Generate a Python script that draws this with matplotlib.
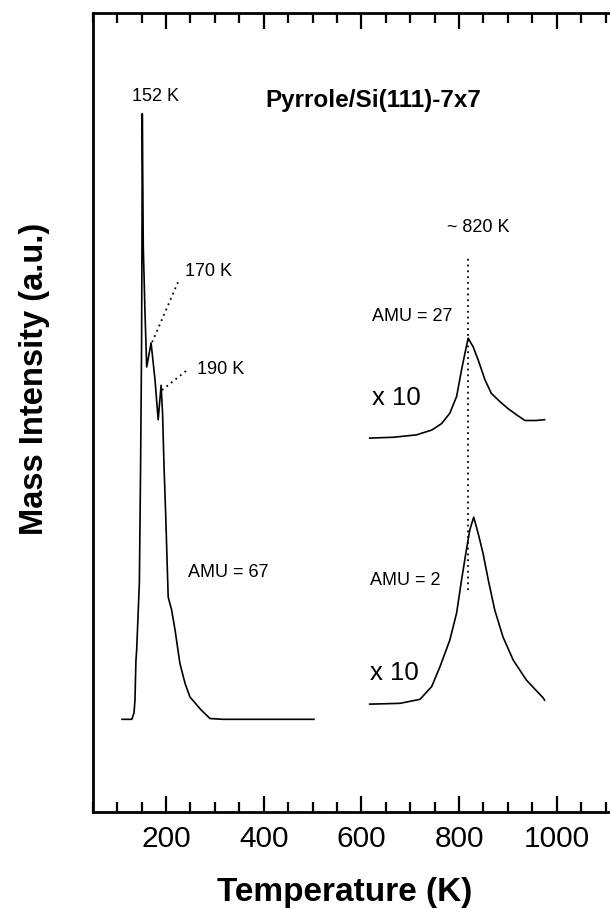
import matplotlib
matplotlib.use("Agg")
import matplotlib.pyplot as plt
from matplotlib.ticker import MultipleLocator

plt.rcParams['font.family'] = ['Liberation Sans', 'DejaVu Sans']

# AMU = 67 trace (pyrrole parent)
amu67_T = [110, 130, 134.5, 136.5, 138.5, 140, 145.5, 148, 150, 150.8, 151.5,
           153.5, 157, 160.5, 169.5, 177.5, 184, 190, 193, 196, 199.5, 204.5,
           211.5, 218.5, 228.5, 239, 249, 271.5, 290, 317, 503]
amu67_I = [11.6, 11.6, 12.4, 14.0, 19.0, 20.3, 28.7, 43.2, 58.2, 70.8, 87.4,
           70.8, 62.5, 55.7, 58.7, 54.1, 49.1, 53.4, 49.9, 43.2, 37.0, 26.9,
           25.3, 22.8, 18.6, 16.1, 14.4, 12.8, 11.7, 11.6, 11.6]

# AMU = 27 trace (x 10)
amu27_T = [617, 665, 713, 723, 744, 764, 781, 795, 805, 812, 818.6,
           829, 839, 853, 866, 883, 900, 918, 935, 958, 975]
amu27_I = [46.8, 46.9, 47.2, 47.4, 47.8, 48.6, 49.9, 52.0, 55.3, 57.4, 59.3,
           58.2, 56.6, 54.1, 52.4, 51.4, 50.5, 49.7, 49.0, 49.0, 49.1]

# AMU = 2 trace (x 10)
amu2_T = [617, 679, 720, 744, 761, 781, 795, 805, 815, 822, 830,
          839, 849, 860, 873, 890, 911, 938, 972, 975]
amu2_I = [13.5, 13.6, 14.1, 15.7, 18.2, 21.5, 24.9, 29.0, 32.8, 35.3, 36.9,
          34.9, 32.4, 29.0, 25.3, 21.9, 19.0, 16.5, 14.3, 14.0]

peak_T = 818.6
peak_line_I = [27.8, 69.3]

fig = plt.figure(figsize=(6.1, 9.09), dpi=100)
ax = fig.add_axes([0.152, 0.1067, 0.8808, 0.879])

ax.plot(amu67_T, amu67_I, color='black', lw=1.2)
ax.plot(amu27_T, amu27_I, color='black', lw=1.2)
ax.plot(amu2_T, amu2_I, color='black', lw=1.2)

# dotted guide lines
dot = (0, (1, 2.2))
ax.plot([peak_T, peak_T], peak_line_I, color='black', lw=1.3, linestyle=dot)
ax.plot([171.7, 224.5], [58.8, 66.3], color='black', lw=1.3, linestyle=dot)
ax.plot([191.8, 243], [52.8, 55.3], color='black', lw=1.3, linestyle=dot)

ax.text(179, 89.5, "152 K", fontsize=13, ha='center', va='center')
ax.text(625, 89.1, "Pyrrole/Si(111)-7x7", fontsize=17.5, fontweight='bold',
        ha='center', va='center')
ax.text(239, 67.6, "170 K", fontsize=13, ha='left', va='center')
ax.text(263.5, 55.4, "190 K", fontsize=13, ha='left', va='center')
ax.text(245, 30.0, "AMU = 67", fontsize=13, ha='left', va='center')
ax.text(840, 73.2, "~ 820 K", fontsize=13, ha='center', va='center')
ax.text(621, 62.0, "AMU = 27", fontsize=13, ha='left', va='center')
ax.text(621, 51.8, "x 10", fontsize=18.5, ha='left', va='center')
ax.text(618, 29.0, "AMU = 2", fontsize=13, ha='left', va='center')
ax.text(618, 17.4, "x 10", fontsize=18.5, ha='left', va='center')

ax.set_xlim(50, 1150)
ax.set_ylim(0, 100)
ax.xaxis.set_major_locator(MultipleLocator(200))
ax.xaxis.set_minor_locator(MultipleLocator(50))
ax.set_yticks([])
ax.tick_params(axis='x', which='both', direction='in', top=True, width=1.6,
               labelsize=21.5, pad=9)
ax.tick_params(axis='x', which='major', length=11.5)
ax.tick_params(axis='x', which='minor', length=7)
for sp in ax.spines.values():
    sp.set_linewidth(2)

fig.text(345 / 610, 1 - 892 / 909, "Temperature (K)", fontsize=24,
         fontweight='bold', ha='center', va='center')
fig.text(35 / 610, 1 - 379 / 909, "Mass Intensity (a.u.)", fontsize=23.5,
         fontweight='bold', rotation=90, ha='center', va='center')

fig.savefig("out.png", dpi=100)
